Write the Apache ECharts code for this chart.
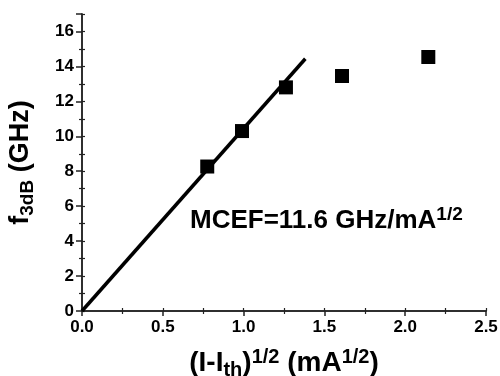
<!DOCTYPE html>
<html><head><meta charset="utf-8">
<script src="https://cdn.jsdelivr.net/npm/echarts@6/dist/echarts.min.js"></script>
<style>html,body{margin:0;padding:0;background:#fff}#c{width:500px;height:376px}</style>
</head><body><div id="c"></div>
<script>
var xValues = [0.775, 0.99, 1.262, 1.609, 2.143];
var yValues = [8.27, 10.3, 12.8, 13.45, 14.54];
var fitX = [0, 1.382];
var fitY = [0, 14.44];
var xTicks = ['0.0', '0.5', '1.0', '1.5', '2.0', '2.5'];
var yTicks = ['0', '2', '4', '6', '8', '10', '12', '14', '16'];
var annotation = 'MCEF=11.6 GHz/mA';

var ff = '"Liberation Sans", Arial, sans-serif';
var chart = echarts.init(document.getElementById('c'));
var axisLine = {show: true, lineStyle: {color: '#222', width: 1.5}};
function richFor(size, sub) {
  return {
    a: {fontSize: size, fontWeight: 'bold', fontFamily: ff, color: '#000', lineHeight: size + 5},
    sub: {fontSize: sub, fontWeight: 'bold', fontFamily: ff, color: '#000', lineHeight: sub, verticalAlign: 'bottom'},
    sup: {fontSize: sub, fontWeight: 'bold', fontFamily: ff, color: '#000', lineHeight: sub, verticalAlign: 'top'}
  };
}
chart.setOption({
  animation: false,
  backgroundColor: '#fff',
  grid: {left: 82, right: 14, top: 14, bottom: 65, containLabel: false, outerBoundsMode: 'none'},
  xAxis: [{
    type: 'value', min: 0, max: 2.5, interval: 0.5, position: 'bottom',
    axisLine: axisLine,
    axisTick: {show: true, length: 5, lineStyle: {color: '#222', width: 1.5}},
    minorTick: {show: true, splitNumber: 2, length: 3, lineStyle: {color: '#222', width: 1.2}},
    splitLine: {show: false},
    axisLabel: {fontSize: 17, fontWeight: 'bold', fontFamily: ff, color: '#000', margin: 8,
      formatter: function (v) { return xTicks[Math.round(v / 0.5)]; }},
    name: '{a|(I-I}{sub|th}{a|)}{sup|1/2}{a| (mA}{sup|1/2}{a|)}',
    nameLocation: 'middle', nameGap: 36,
    nameTextStyle: {rich: richFor(28, 20)}
  }, {
    type: 'value', min: 0, max: 2.5, interval: 0.25, position: 'top',
    axisLine: axisLine,
    axisTick: {show: true, length: 3, lineStyle: {color: '#222', width: 1.2}},
    axisLabel: {show: false}, splitLine: {show: false}
  }],
  yAxis: [{
    type: 'value', min: 0, max: 17, interval: 2, position: 'left',
    axisLine: axisLine,
    axisTick: {show: true, length: 6, lineStyle: {color: '#222', width: 1.5}},
    minorTick: {show: true, splitNumber: 2, length: 3, lineStyle: {color: '#222', width: 1.2}},
    splitLine: {show: false},
    axisLabel: {fontSize: 17, fontWeight: 'bold', fontFamily: ff, color: '#000', margin: 8,
      formatter: function (v) { return yTicks[Math.round(v / 2)]; }},
    name: '{a|f}{sub|3dB}{a| (GHz)}',
    nameLocation: 'middle', nameGap: 45,
    nameTextStyle: {rich: richFor(27, 19)}
  }, {
    type: 'value', min: 0, max: 17, interval: 1, position: 'right',
    axisLine: axisLine,
    axisTick: {show: true, length: 3, lineStyle: {color: '#222', width: 1.2}},
    axisLabel: {show: false}, splitLine: {show: false}
  }],
  graphic: [{
    type: 'text', left: 190, top: 205,
    style: {
      text: '{a|' + annotation + '}{sup|1/2}',
      rich: {
        a: {fontSize: 26, fontWeight: 'bold', fontFamily: ff, fill: '#000', lineHeight: 31},
        sup: {fontSize: 19, fontWeight: 'bold', fontFamily: ff, fill: '#000', lineHeight: 19, verticalAlign: 'top'}
      }
    }
  }],
  series: [{
    type: 'line', xAxisIndex: 0, yAxisIndex: 0,
    data: fitX.map(function (x, i) { return [x, fitY[i]]; }),
    showSymbol: false, symbol: 'none',
    lineStyle: {color: '#000', width: 3.5}
  }, {
    type: 'scatter', xAxisIndex: 0, yAxisIndex: 0,
    data: xValues.map(function (x, i) { return [x, yValues[i]]; }),
    symbol: 'rect', symbolSize: 14,
    itemStyle: {color: '#000', opacity: 1}
  }]
});
</script></body></html>
